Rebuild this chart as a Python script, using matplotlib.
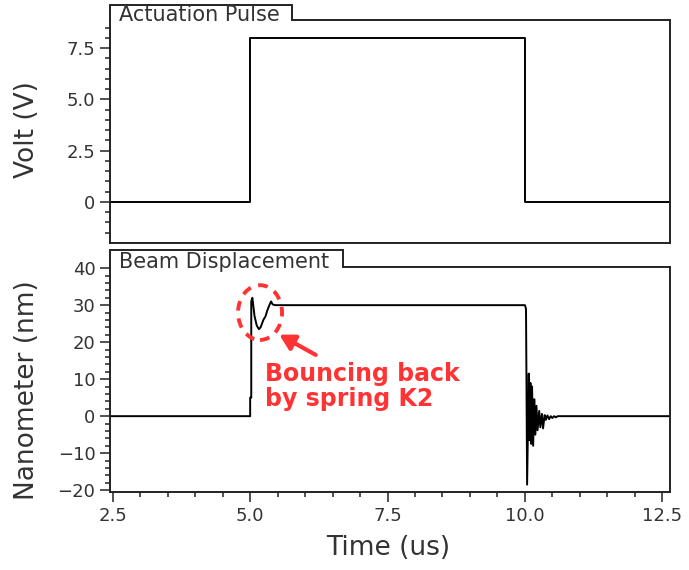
import matplotlib
matplotlib.use("Agg")
import matplotlib.pyplot as plt
from matplotlib.patches import Ellipse

# actuation pulse (us, V)
pulse_t = [2.4, 5.0, 5.0, 10.0, 10.0, 12.7]
pulse_v = [0, 0, 8, 8, 0, 0]

# beam displacement (us, nm)
disp_t = [2.4, 5.00, 5.00, 5.02, 5.02, 5.04, 5.08, 5.12, 5.16, 5.19, 5.24, 5.28,
          5.31, 5.35, 5.38, 5.41, 5.45,
          10.00, 10.02, 10.04, 10.07, 10.085, 10.10, 10.115, 10.13, 10.15, 10.17,
          10.19, 10.21, 10.23, 10.26, 10.28, 10.31, 10.33, 10.36, 10.38, 10.41,
          10.44, 10.47, 10.50, 10.53, 10.56, 10.60, 12.7]
disp_nm = [0, 0, 5, 5, 31, 32, 27, 24.5, 23.5, 24, 26, 27,
           28.5, 30, 31, 30.2, 30,
           30, 29, -18.5, 11.5, -6.5, 9, -7.5, 8, -8, 4.6,
           -5, 2.8, -3.8, 1.4, -3, 0.6, -3.3, 0.3, -1, 0.2,
           -0.8, 0, -0.5, 0, -0.3, 0, 0]

volt_ticks = [0, 2.5, 5.0, 7.5]
volt_labels = ["0", "2.5", "5.0", "7.5"]
nm_ticks = [-20, -10, 0, 10, 20, 30, 40]
time_ticks = [2.5, 5.0, 7.5, 10.0, 12.5]

plt.rcParams['font.family'] = ['DejaVu Sans']
txt = '#333333'
red = '#ff3333'

fig = plt.figure(figsize=(6.89, 5.70), dpi=100)
ax1 = fig.add_axes([0.1597, 0.5737, 0.8127, 0.3912])
ax2 = fig.add_axes([0.1597, 0.1368, 0.8127, 0.3947])

for ax in (ax1, ax2):
    ax.set_xlim(2.45, 12.64)
    for s in ax.spines.values():
        s.set_linewidth(1.4)
        s.set_color('#222222')
    ax.tick_params(which='both', direction='out', colors='#222222', labelcolor=txt,
                   labelsize=13, width=1.1)
    ax.tick_params(which='major', length=7)
    ax.tick_params(which='minor', length=3.5)

# top panel
ax1.plot(pulse_t, pulse_v, color='black', lw=1.4)
ax1.set_ylim(-2.0, 8.87)
ax1.set_yticks(volt_ticks)
ax1.set_yticklabels(volt_labels)
ax1.set_yticks([i * 0.5 for i in range(-3, 18)], minor=True)
ax1.set_xticks([])
ax1.set_xticks([], minor=True)
ax1.set_ylabel('Volt (V)', fontsize=19, color=txt)
ax1.yaxis.set_label_coords(-0.125, 0.507)

# bottom panel
ax2.plot(disp_t, disp_nm, color='black', lw=1.4)
ax2.set_ylim(-20.5, 40.3)
ax2.set_yticks(nm_ticks)
ax2.set_yticks(range(-20, 41, 2), minor=True)
ax2.set_xticks(time_ticks)
ax2.set_xticks([2.5 + 0.5 * i for i in range(21)], minor=True)
ax2.set_ylabel('Nanometer (nm)', fontsize=19, color=txt)
ax2.yaxis.set_label_coords(-0.125, 0.453)
ax2.set_xlabel('Time (us)', fontsize=19, color=txt)
ax2.xaxis.set_label_coords(0.496, -0.19)
ax2.xaxis.label.set_va('top')

# title tabs (open at the bottom, merged with the frame)
for ax, title, w, h in [(ax1, 'Actuation Pulse', 0.325, 0.067),
                        (ax2, 'Beam Displacement', 0.416, 0.0756)]:
    ax.spines['top'].set_visible(False)
    ax.plot([0, 0, w, w, 1], [1, 1 + h, 1 + h, 1, 1], transform=ax.transAxes,
            color='#222222', lw=1.4, clip_on=False, solid_joinstyle='miter')
    ax.text(0.016, 0.994, title, transform=ax.transAxes, fontsize=15,
            color=txt, va='baseline', ha='left', zorder=6)

# annotation
ax2.add_patch(Ellipse((5.18, 28.0), 0.8, 14.8, fill=False, edgecolor=red,
                      lw=2.8, linestyle=(0, (2.5, 2)), zorder=5))
ax2.annotate('', xy=(5.485, 22.4), xytext=(6.236, 16.2),
             arrowprops=dict(arrowstyle='-|>,head_length=0.9,head_width=0.5',
                             color=red, lw=3))
ax2.text(5.27, 14.6, 'Bouncing back\nby spring K2', color=red, fontsize=17,
         fontweight='bold', ha='left', va='top', linespacing=1.05)

fig.savefig('out.png', dpi=100)
